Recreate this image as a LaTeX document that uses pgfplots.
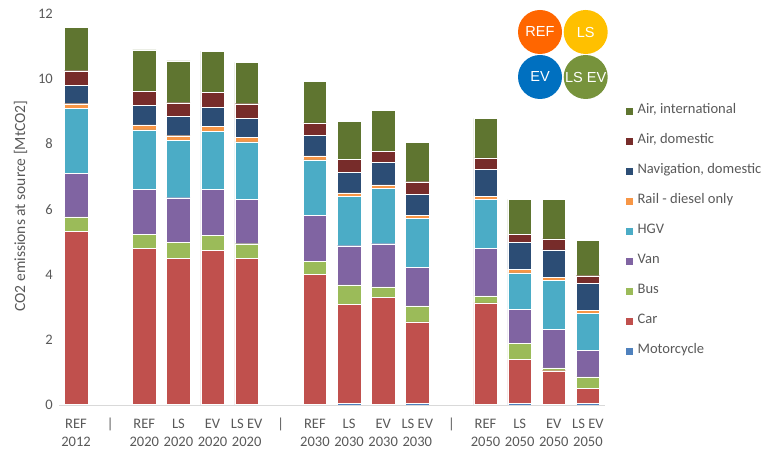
\documentclass[border=0pt]{standalone}
\usepackage{pgfplots}
\pgfplotsset{compat=1.18}
\usepackage{pgfplotstable}
\usepackage{fontspec}
\setmainfont{Carlito}
\newfontfamily\arialfont{Liberation Sans}
\definecolor{cMoto}{HTML}{4F81BD}
\definecolor{cCar}{HTML}{C0504D}
\definecolor{cBus}{HTML}{9BBB59}
\definecolor{cVan}{HTML}{8064A2}
\definecolor{cHGV}{HTML}{4BACC6}
\definecolor{cRail}{HTML}{F79646}
\definecolor{cNav}{HTML}{2C4D75}
\definecolor{cAirD}{HTML}{772C2A}
\definecolor{cAirI}{HTML}{5F7530}
\definecolor{cTxt}{HTML}{595959}
\definecolor{cAx}{HTML}{D9D9D9}
\definecolor{cREF}{HTML}{FF6600}
\definecolor{cLS}{HTML}{FFC000}
\definecolor{cEV}{HTML}{0070C0}
\definecolor{cLSEV}{HTML}{77933C}
\pgfplotstableread{
x  moto car  bus  van  hgv  rail nav  airdom airint
0  0.03 5.30 0.43 1.33 1.99 0.15 0.57 0.44 1.32
2  0.03 4.76 0.44 1.37 1.83 0.15 0.60 0.42 1.28
3  0.03 4.47 0.49 1.36 1.75 0.15 0.59 0.42 1.28
4  0.03 4.71 0.45 1.41 1.79 0.15 0.58 0.45 1.27
5  0.03 4.47 0.44 1.35 1.77 0.15 0.57 0.45 1.27
7  0.03 3.98 0.40 1.39 1.71 0.12 0.63 0.38 1.28
8  0.04 3.04 0.60 1.20 1.51 0.11 0.63 0.39 1.16
9  0.03 3.26 0.33 1.32 1.70 0.10 0.70 0.33 1.26
10 0.04 2.51 0.49 1.18 1.50 0.10 0.64 0.38 1.21
12 0.03 3.10 0.21 1.45 1.51 0.10 0.82 0.35 1.21
13 0.06 1.33 0.49 1.05 1.12 0.11 0.82 0.24 1.08
14 0.03 1.02 0.09 1.17 1.50 0.10 0.84 0.34 1.21
15 0.06 0.45 0.35 0.82 1.12 0.09 0.84 0.23 1.09
}\data
\pgfplotsset{
  mybar/.style={fill=#1, draw=white, line width=0.4bp,
    legend image code/.code={\path[fill=#1] (0bp,-3.85bp) rectangle (7.7bp,3.85bp);}},
}
\newcommand\fs{\fontsize{14.6}{18}\selectfont}
\begin{document}
\begin{tikzpicture}
\path[use as bounding box] (0,0) rectangle (771bp,449bp);
\begin{axis}[
  at={(59bp,44bp)}, anchor=south west,
  scale only axis, width=546bp, height=391.7bp,
  ybar stacked, bar width=23.5bp,
  xmin=-0.5, xmax=15.5, ymin=0, ymax=12,
  ytick={0,2,...,12},
  xtick={0,...,15},
  xticklabels={{REF\\2012},{|\\\strut},{REF\\2020},{LS\\2020},{EV\\2020},{LS EV\\2020},{|\\\strut},{REF\\2030},{LS\\2030},{EV\\2030},{LS EV\\2030},{|\\\strut},{REF\\2050},{LS\\2050},{EV\\2050},{LS EV\\2050}},
  axis lines=left,
  x axis line style={-, draw=cAx, line width=0.75bp},
  y axis line style={draw=none},
  major tick length=0pt,
  /pgf/number format/assume math mode=true,
  tick label style={font=\fs, text=cTxt},
  xticklabel style={align=center, anchor=base, inner sep=0pt, yshift=-41bp},
  yticklabel style={anchor=east, inner sep=0pt, xshift=-6bp},
  ylabel={CO2 emissions at source [MtCO2]},
  ylabel style={at={(axis description cs:-0.0705,0.508)}, anchor=center, font=\fontsize{15.6}{17}\selectfont, text=cTxt},
  reverse legend,
  legend cell align=left,
  legend style={at={(axis description cs:1.0366,0.7657)}, anchor=north west, draw=none, fill=none, inner sep=0pt,
    row sep=18bp, font=\fs, text=cTxt,
    nodes={inner sep=0pt, text height=8.5bp, text depth=3.5bp},
    /tikz/every odd column/.append style={column sep=4.3bp}},
]
\addplot[mybar=cMoto] table[x=x,y=moto]{\data};
\addplot[mybar=cCar] table[x=x,y=car]{\data};
\addplot[mybar=cBus] table[x=x,y=bus]{\data};
\addplot[mybar=cVan] table[x=x,y=van]{\data};
\addplot[mybar=cHGV] table[x=x,y=hgv]{\data};
\addplot[mybar=cRail] table[x=x,y=rail]{\data};
\addplot[mybar=cNav] table[x=x,y=nav]{\data};
\addplot[mybar=cAirD] table[x=x,y=airdom]{\data};
\addplot[mybar=cAirI] table[x=x,y=airint]{\data};
\legend{Motorcycle,Car,Bus,Van,HGV,Rail - diesel only,{Navigation, domestic},{Air, domestic},{Air, international}}
\end{axis}
\tikzset{circ/.style={circle, fill=#1, minimum size=44bp, inner sep=0pt, text=white, font=\arialfont\fontsize{14.6}{15}\selectfont}}
\node[circ=cREF] at (540bp,417bp) {REF};
\node[circ=cLS] at (585.7bp,417bp) {LS};
\node[circ=cEV] at (540bp,372bp) {EV};
\node[circ=cLSEV] at (585.7bp,372bp) {LS EV};
\end{tikzpicture}
\end{document}
